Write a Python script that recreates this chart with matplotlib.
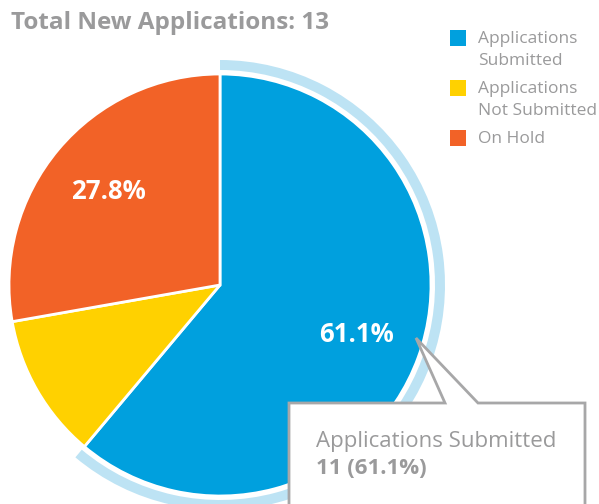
import matplotlib.pyplot as plt
from matplotlib.patches import Wedge, Polygon, Rectangle

# chart data
title = "Total New Applications: 13"
categories = ["Applications Submitted", "Applications Not Submitted", "On Hold"]
legend_labels = ["Applications\nSubmitted", "Applications\nNot Submitted", "On Hold"]
counts = [11, 2, 5]
colors = ["#00a0de", "#ffd100", "#f26227"]
hovered = 0  # slice with the tooltip / highlight ring

FONT = ["Open Sans", "DejaVu Sans"]
GREY = "#9a9a9b"
W, H = 599, 504

fig = plt.figure(figsize=(W / 100, H / 100), dpi=100)
ax = fig.add_axes([0, 0, 1, 1])

# pie centre and radius in pixel units (y measured from bottom)
cx, cy, r = 220, H - 285, 211


def pct_label(p):
    # small slices get no label
    return f"{p:.1f}%" if p > 15 else ""


wedges, _, autotexts = ax.pie(
    counts, colors=colors, startangle=90, counterclock=False,
    center=(cx, cy), radius=r, autopct=pct_label, pctdistance=0.69,
    wedgeprops=dict(edgecolor="white", linewidth=2),
    textprops=dict(color="white", fontsize=18.5, fontweight="bold", family=FONT))

ax.set_xlim(0, W)
ax.set_ylim(0, H)
ax.set_aspect("auto")
ax.axis("off")

# hover ring around the highlighted slice
hw = wedges[hovered]
ax.add_patch(Wedge((cx, cy), r + 14, hw.theta1, hw.theta2, width=10,
                   facecolor="#bde3f4", edgecolor="none"))

# title
ax.text(11, H - 23, title, fontsize=17.5, fontweight="bold", color=GREY,
        family=FONT, va="center", ha="left")

# legend
for i, (lab, c) in enumerate(zip(legend_labels, colors)):
    top = 30 + 50 * i
    ax.add_patch(Rectangle((450, H - top - 16), 16, 16, facecolor=c, edgecolor="none"))
    ax.text(478, H - top - 1, lab, fontsize=12.5, color=GREY, family=FONT,
            va="top", ha="left", linespacing=1.5)

# tooltip box with pointer
total = sum(counts)
by = H - 403
apex = (416, H - 338)
tip = [(289, by), (445, by), apex, (478, by), (585, by), (585, -20), (289, -20)]
ax.add_patch(Polygon(tip, closed=True, facecolor="white", edgecolor="#a7a7a8",
                     linewidth=2, clip_on=False, zorder=5))
ax.text(316, H - 442, categories[hovered], fontsize=16, color=GREY,
        family=FONT, va="center", ha="left", zorder=6)
ax.text(316, H - 468,
        f"{counts[hovered]} ({100 * counts[hovered] / total:.1f}%)",
        fontsize=16, fontweight="bold", color=GREY, family=FONT,
        va="center", ha="left", zorder=6)

fig.savefig("out.png", dpi=100)
